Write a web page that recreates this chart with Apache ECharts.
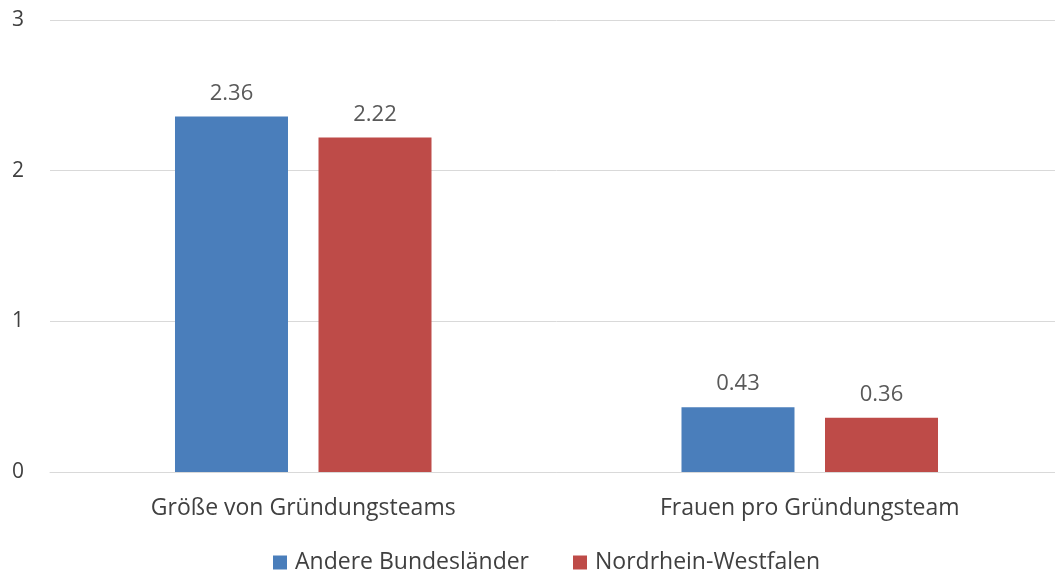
<!DOCTYPE html>
<html><head><meta charset="utf-8">
<script src="https://cdn.jsdelivr.net/npm/echarts@6/dist/echarts.min.js"></script>
<style>html,body{margin:0;padding:0;background:#fff;overflow:hidden}#c{width:1063px;height:579px}</style>
</head><body><div id="c"></div>
<script>
const categories = ['Größe von Gründungsteams', 'Frauen pro Gründungsteam'];
const seriesNames = ['Andere Bundesländer', 'Nordrhein-Westfalen'];
const andere = [2.36, 0.43];
const nrw = [2.22, 0.36];
const colors = ['#4a7ebb', '#be4b48'];
const FONT = 'Open Sans';
const chart = echarts.init(document.getElementById('c'), null, {renderer: 'canvas'});
chart.setOption({
  animation: false,
  textStyle: {fontFamily: FONT},
  grid: {left: 50, top: 20, right: 0, height: 452, containLabel: false},
  legend: {
    top: 546, left: 268, itemWidth: 14, itemHeight: 14, itemGap: 44,
    icon: 'rect',
    textStyle: {fontFamily: FONT, fontSize: 23, color: '#404040', padding: [0, 0, 0, 3]},
    data: seriesNames
  },
  xAxis: {
    type: 'category', data: categories,
    axisLine: {lineStyle: {color: '#d9d9d9', width: 1}},
    axisTick: {show: false},
    axisLabel: {fontFamily: FONT, fontSize: 23, color: '#404040', margin: 25}
  },
  yAxis: {
    type: 'value', min: 0, max: 3, interval: 1,
    axisLine: {show: false}, axisTick: {show: false},
    splitLine: {lineStyle: {color: '#d9d9d9', width: 1}},
    axisLabel: {fontFamily: FONT, fontSize: 21, color: '#404040', margin: 26}
  },
  series: [
    {name: seriesNames[0], type: 'bar', data: andere, barWidth: 113, barGap: '27%',
     itemStyle: {color: colors[0]},
     label: {show: true, position: 'top', distance: 12, fontFamily: FONT, fontSize: 22, color: '#595959', formatter: p => p.value.toFixed(2)}},
    {name: seriesNames[1], type: 'bar', data: nrw, barWidth: 113,
     itemStyle: {color: colors[1]},
     label: {show: true, position: 'top', distance: 12, fontFamily: FONT, fontSize: 22, color: '#595959', formatter: p => p.value.toFixed(2)}}
  ]
});
</script></body></html>
